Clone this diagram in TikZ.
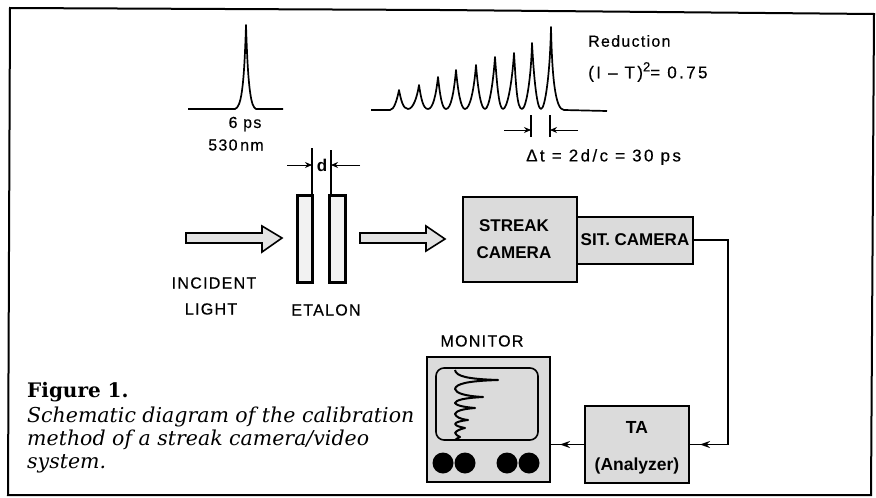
\documentclass[tikz,border=0pt]{standalone}
\usepackage{fontspec}
\setmainfont{DejaVu Serif}
\setsansfont{Liberation Sans}
\usetikzlibrary{arrows.meta}
\tikzset{x=1pt,y=-1pt,
 lab/.style={font=\sffamily\fontsize{16}{16}\selectfont\addfontfeatures{LetterSpace=8,FakeBold=0.4},inner sep=0pt,text=black},
 wide/.style={font=\sffamily\fontsize{17}{17}\selectfont\addfontfeatures{LetterSpace=14,FakeBold=0.4}},
 box/.style={draw=black,line width=2pt,fill=gray!28,inner sep=0pt,align=center,font=\sffamily\bfseries\fontsize{17}{27}\selectfont},
 fatarrow/.style={draw=black,line width=1.6pt,fill=gray!22,line join=miter},
 plate/.style={draw=black,line width=2.2pt,fill=gray!10,inner sep=0pt},
 wire/.style={draw=black,line width=1.5pt},
 dim/.style={draw=black,line width=.9pt,-{Stealth[length=7pt,width=6pt]}},
 ext/.style={draw=black,line width=1.1pt},
 curve/.style={draw=black,line width=1.7pt,line join=round},
 tip/.style={-{Stealth[length=10pt,width=7pt]}},
 captxt/.style={anchor=base west,inner sep=0pt,font=\fontsize{20.5}{20.5}\selectfont\itshape}
}
\begin{document}
\begin{tikzpicture}
\useasboundingbox (0,0) rectangle (876,498);
\fill[white] (0,0) rectangle (876,498);
\draw[line width=2pt] (10,8) -- (440,10) -- (874,14) -- (871,495) -- (8,495) -- cycle;
% single pulse
\draw[curve] (188,109) -- (235,109) .. controls (241,107) and (244,90) .. (246,25) .. controls (248,90) and (251,107) .. (256,109) -- (283,109);
\node[lab] (t6) at (245,124) {6 ps};
\node[lab] (t530) at (236,145) {530\,nm};
% pulse train
\draw[curve] (371,110) -- (390,110)
 .. controls (394,110) and (397,100) .. (399,90) .. controls (401,100) and (403,109) .. (408,109)
 .. controls (413,109) and (417,98) .. (419,85) .. controls (421,98) and (423,109) .. (428,109)
 .. controls (433,109) and (436,95) .. (438,77) .. controls (440,95) and (442,109) .. (446,109)
 .. controls (451,109) and (454,92) .. (456,70) .. controls (458,92) and (461,109) .. (465,109)
 .. controls (470,109) and (474,90) .. (476,65) .. controls (478,90) and (481,109) .. (485,109)
 .. controls (489,109) and (493,85) .. (495,57) .. controls (497,85) and (499,109) .. (503,109)
 .. controls (507,109) and (512,85) .. (514,53) .. controls (516,85) and (517,109) .. (522,109)
 .. controls (526,109) and (531,80) .. (532,43) .. controls (534,80) and (537,109) .. (541,109)
 .. controls (545,109) and (550,75) .. (551,27) .. controls (552,75) and (555,110) .. (564,110) -- (607,111);
\node[lab,anchor=west] (red) at (588,41) {Reduction};
\node[lab,wide,anchor=west] (form) at (588,72) {(I -- T)\raisebox{7pt}{\fontsize{13}{13}\selectfont 2}= 0.75};
\coordinate (ta) at (531,130); \coordinate (tb) at (550,130);
\draw[ext] (531,115) -- (531,137);
\draw[ext] (550,115) -- (550,137);
\draw[dim] (504,130) -- (ta);
\draw[dim] (578,130) -- (tb);
\node[lab,wide,anchor=west] (dt) at (526,157) {Δt = 2d/c = 30 ps};
% etalon
\node[plate,minimum width=15pt,minimum height=87pt] (e1) at (305,239) {};
\node[plate,minimum width=16pt,minimum height=87pt] (e2) at (337.5,239) {};
\draw[ext] (312,148) -- (e1.north -| 312,0);
\draw[ext] (331,150) -- (e2.north -| 331,0);
\draw[dim] (287,165) -- (312,165);
\draw[dim] (360,165) -- (331,165);
\node[lab,font=\sffamily\bfseries\fontsize{17}{17}\selectfont] (d) at (322,165) {d};
% fat arrows
\draw[fatarrow] (186,233) -- (262,233) -- (262,226) -- (282,238) -- (262,252) -- (262,243) -- (186,243) -- cycle;
\draw[fatarrow] (360,233) -- (426,233) -- (426,226) -- (445,239) -- (426,251) -- (426,243) -- (360,243) -- cycle;
\node[lab] (inc) at (214,283) {INCIDENT};
\node[lab] (lig) at (211,309) {LIGHT};
\node[lab] (eta) at (326,310) {ETALON};
% cameras
\node[box,minimum width=114pt,minimum height=85pt] (streak) at (520,239.5) {STREAK\hspace*{12pt}\\CAMERA\hspace*{12pt}};
\node[box,minimum width=116pt,minimum height=47pt] (sit) at (635,240) {SIT. CAMERA};
% monitor
\node[box,minimum width=123pt,minimum height=125pt] (mon) at (488.5,419.5) {};
\node[lab] (monl) at (482,341) {MONITOR};
\draw[draw=black,line width=1.6pt,rounded corners=8pt,fill=gray!28] (436,368) rectangle (538,440);
\draw[curve,line width=2pt] (455,370)
 .. controls (456,376) and (466,379) .. (498,380) .. controls (466,381) and (456,384) .. (455,389)
 .. controls (456,393) and (464,396) .. (483,397) .. controls (464,398) and (456,400) .. (455,403)
 .. controls (456,405) and (462,407) .. (475,408) .. controls (462,409) and (456,411) .. (455,414)
 .. controls (456,417) and (460,419) .. (468,420) .. controls (460,421) and (456,422) .. (455,424)
 .. controls (456,426) and (460,427) .. (465,428) .. controls (460,429) and (456,431) .. (455,433)
 .. controls (456,435) and (458,436) .. (460,437) .. controls (458,438) and (456,439) .. (455,440);
\foreach \xx in {443,465,507,529}
  \fill[black] (\xx,463) circle (10.5);
% TA
\node[box,minimum width=104pt,minimum height=77pt,font=\sffamily\bfseries\fontsize{17.5}{37}\selectfont] (ta1) at (637,444.5) {\rule{0pt}{18pt}TA\\(Analyzer)};
% wires
\draw[wire] (sit.east) -- (728,240) -- (728,444.5) -- (ta1.east);
\draw[wire,tip] (728,444.5) -- (700,444.5);
\draw[wire] (ta1.west) -- (ta1.west -| mon.east);
\draw[wire,tip] (ta1.west) -- (560,444.5);
% caption
\node[anchor=base west,inner sep=0pt,font=\fontsize{20}{20}\selectfont\bfseries] (fig) at (27,397) {Figure 1.};
\node[captxt] (c1) at (27,422) {Schematic diagram of the calibration};
\node[captxt] (c2) at (27,445.5) {method of a streak camera/video};
\node[captxt] (c3) at (27,468) {system.};
\end{tikzpicture}
\end{document}
